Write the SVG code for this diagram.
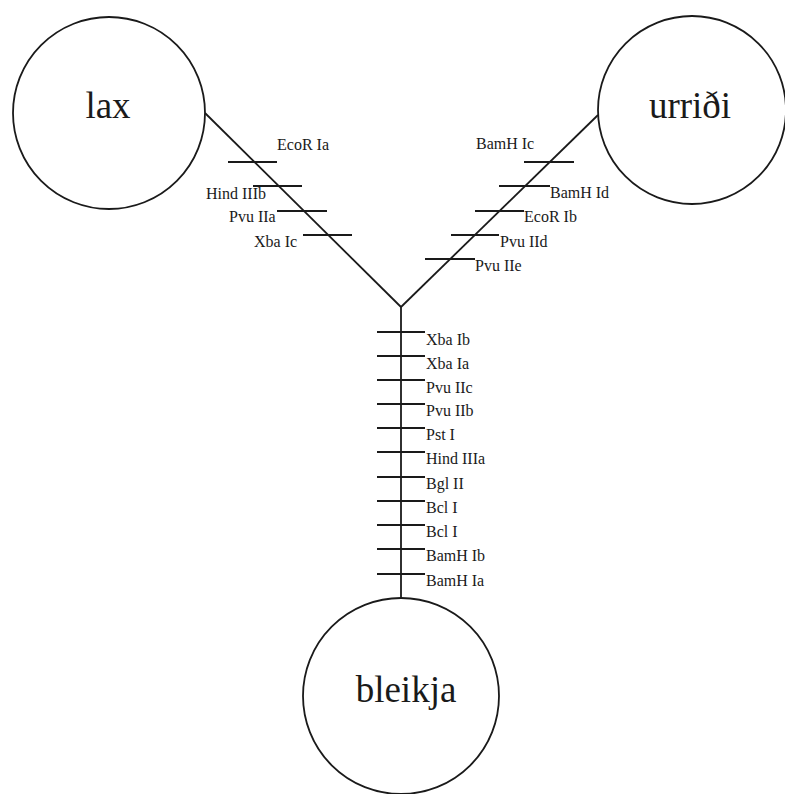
<svg xmlns="http://www.w3.org/2000/svg" width="785" height="794" viewBox="0 0 785 794">
<style>
  .node { fill: #fff; stroke: #1a1a1a; stroke-width: 1.8; }
  .name { font-family: "Liberation Serif", "Times New Roman", serif; font-size: 37px; fill: #1a1a1a; text-anchor: middle; }
  .arm { stroke: #1a1a1a; stroke-width: 1.8; fill: none; }
  .tick { stroke: #1a1a1a; stroke-width: 1.8; }
  .site { font-family: "Liberation Serif", "Times New Roman", serif; font-size: 16px; fill: #1a1a1a; }
</style>
<rect width="785" height="794" fill="#fff"/>
<g id="connectors">
  <line class="arm" x1="205" y1="113" x2="401" y2="307"/>
  <line class="arm" x1="598" y1="115" x2="401" y2="307"/>
  <line class="arm" x1="401" y1="307" x2="401" y2="598"/>
</g>
<g id="sites-lax">
  <line class="tick" x1="228" y1="162" x2="277" y2="162"/>
  <line class="tick" x1="253" y1="186" x2="302" y2="186"/>
  <line class="tick" x1="277" y1="211" x2="327" y2="211"/>
  <line class="tick" x1="303" y1="235" x2="352" y2="235"/>
  <text class="site" x="277" y="150">EcoR Ia</text>
  <text class="site" x="206" y="199">Hind IIIb</text>
  <text class="site" x="229" y="222">Pvu IIa</text>
  <text class="site" x="254" y="247">Xba Ic</text>
</g>
<g id="sites-urridi">
  <line class="tick" x1="524" y1="162" x2="574" y2="162"/>
  <line class="tick" x1="499" y1="186" x2="550" y2="186"/>
  <line class="tick" x1="475" y1="211" x2="524" y2="211"/>
  <line class="tick" x1="451" y1="235" x2="499" y2="235"/>
  <line class="tick" x1="425" y1="259" x2="475" y2="259"/>
  <text class="site" x="476" y="149">BamH Ic</text>
  <text class="site" x="550" y="198">BamH Id</text>
  <text class="site" x="524" y="222">EcoR Ib</text>
  <text class="site" x="500" y="247">Pvu IId</text>
  <text class="site" x="475" y="271">Pvu IIe</text>
</g>
<g id="sites-bleikja">
  <line class="tick" x1="377" y1="332" x2="425" y2="332"/>
  <line class="tick" x1="377" y1="356" x2="425" y2="356"/>
  <line class="tick" x1="377" y1="380" x2="425" y2="380"/>
  <line class="tick" x1="377" y1="404" x2="425" y2="404"/>
  <line class="tick" x1="377" y1="428" x2="425" y2="428"/>
  <line class="tick" x1="377" y1="452" x2="425" y2="452"/>
  <line class="tick" x1="377" y1="477" x2="425" y2="477"/>
  <line class="tick" x1="377" y1="501" x2="425" y2="501"/>
  <line class="tick" x1="377" y1="525" x2="425" y2="525"/>
  <line class="tick" x1="377" y1="549" x2="425" y2="549"/>
  <line class="tick" x1="377" y1="574" x2="425" y2="574"/>
  <text class="site" x="426" y="345">Xba Ib</text>
  <text class="site" x="426" y="369">Xba Ia</text>
  <text class="site" x="426" y="393">Pvu IIc</text>
  <text class="site" x="426" y="416">Pvu IIb</text>
  <text class="site" x="426" y="440">Pst I</text>
  <text class="site" x="426" y="464">Hind IIIa</text>
  <text class="site" x="426" y="489">Bgl II</text>
  <text class="site" x="426" y="513">Bcl I</text>
  <text class="site" x="426" y="537">Bcl I</text>
  <text class="site" x="426" y="561">BamH Ib</text>
  <text class="site" x="426" y="586">BamH Ia</text>
</g>
<g id="lax">
  <circle class="node" cx="109" cy="113" r="96"/>
  <text class="name" x="108" y="118">lax</text>
</g>
<g id="urridi">
  <circle class="node" cx="692" cy="110" r="94"/>
  <text class="name" x="690" y="118">urriði</text>
</g>
<g id="bleikja">
  <circle class="node" cx="401" cy="696" r="98"/>
  <text class="name" x="406" y="702">bleikja</text>
</g>
</svg>
